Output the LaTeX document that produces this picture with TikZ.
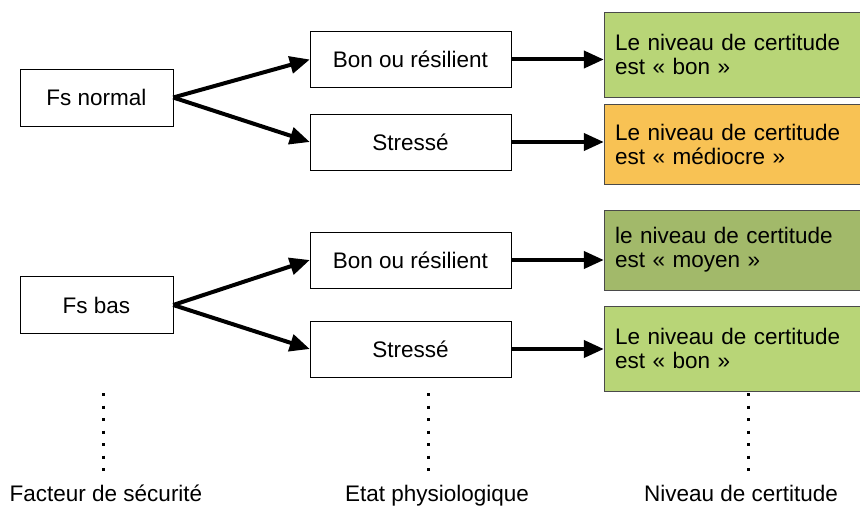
\documentclass[tikz,border=0pt]{standalone}
\usepackage{fontspec}
\setmainfont{Liberation Sans}
\usetikzlibrary{arrows.meta}
\definecolor{goodgreen}{HTML}{B8D577}
\definecolor{midgreen}{HTML}{A2B96A}
\definecolor{badorange}{HTML}{F8C254}
\definecolor{boxgrey}{HTML}{4A4A4A}

\begin{document}
\begin{tikzpicture}[x=1pt,y=1pt,
    every node/.style={font=\fontsize{22.5}{24}\selectfont},
    factor/.style={draw,minimum width=153pt,minimum height=57pt},
    state/.style={draw,minimum width=201pt,minimum height=56pt},
    level/.style={draw=boxgrey,minimum width=258pt,text width=236pt,inner sep=11pt,align=left},
    link/.style={line width=4pt,-{Triangle[length=20pt,width=17pt]}},
    dotline/.style={line width=3pt,dash pattern=on 3pt off 9.5pt}]
      \useasboundingbox (0,0) rectangle (860,507);
      \draw
        (96.5,409.5) node[factor] (fsnormal) {Fs normal}
        (96.5,202) node[factor] (fsbas) {Fs bas}
        (410.5,447.5) node[state] (bon1) {Bon ou résilient}
        (410.5,365) node[state] (stress1) {Stressé}
        (410.5,247) node[state] (bon2) {Bon ou résilient}
        (410.5,158) node[state] (stress2) {Stressé};
      \draw
        (733,452.5) node[level,fill=goodgreen,minimum height=85pt] (cert1) {Le niveau de certitude\\est « bon »}
        (733,363) node[level,fill=badorange,minimum height=80pt] (cert2) {Le niveau de certitude\\est « médiocre »}
        (733,257) node[level,fill=midgreen,minimum height=80pt] (cert3) {le niveau de certitude\\est « moyen »}
        (733,158.5) node[level,fill=goodgreen,minimum height=85pt] (cert4) {Le niveau de certitude\\est « bon »};
      \draw
        (106,6) node[anchor=base] (lblfactor) {Facteur de sécurité}
        (437,6) node[anchor=base] (lblstate) {Etat physiologique}
        (741,6) node[anchor=base] (lbllevel) {Niveau de certitude};
      \coordinate (dotsA) at (103,114);
      \coordinate (dotsB) at (428,114);
      \coordinate (dotsC) at (748,114);
      \draw[link] (fsnormal.east) -- (bon1.west);
      \draw[link] (fsnormal.east) -- (stress1.west);
      \draw[link] (fsbas.east) -- (bon2.west);
      \draw[link] (fsbas.east) -- (stress2.west);
      \draw[link] (bon1.east) -- (bon1.east -| cert1.west);
      \draw[link] (stress1.east) -- (stress1.east -| cert2.west);
      \draw[link] (bon2.east) -- (bon2.east -| cert3.west);
      \draw[link] (stress2.east) -- (stress2.east -| cert4.west);
      \draw[dotline]
        (dotsA) -- ++(0,-80)
        (dotsB) -- ++(0,-80)
        (dotsC) -- ++(0,-80);
    \end{tikzpicture}
\end{document}
